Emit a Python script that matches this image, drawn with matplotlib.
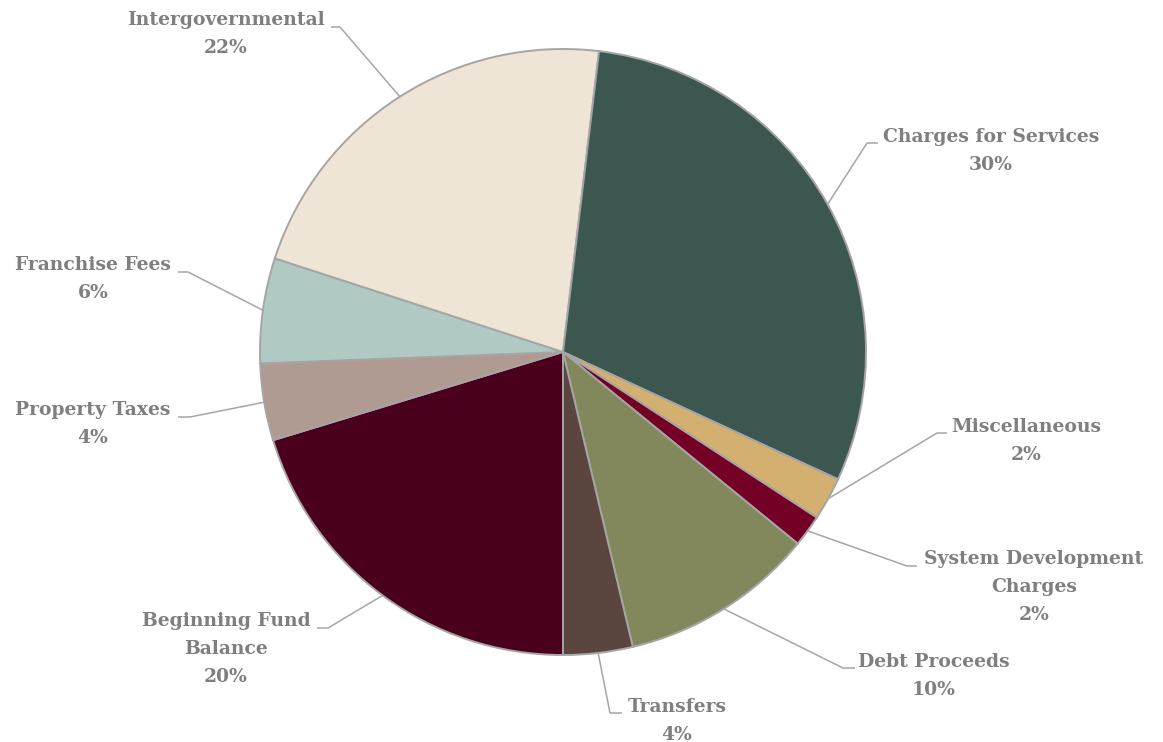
import numpy as np
import matplotlib.pyplot as plt

# Revenue sources, listed clockwise starting from the bottom of the pie
categories = ['Beginning Fund\nBalance', 'Property Taxes', 'Franchise Fees', 'Intergovernmental',
              'Charges for Services', 'Miscellaneous', 'System Development\nCharges',
              'Debt Proceeds', 'Transfers']
shares = [20.3, 4.1, 5.6, 21.9, 30.0, 2.3, 1.7, 10.4, 3.7]
colors = ['#4A001D', '#B09B92', '#B0CAC3', '#EFE5D6', '#3C574F',
          '#D3B06F', '#750026', '#82885B', '#5B463F']

# label layout in pixel coords: text centre, elbow of the leader line, end of the stub
label_pos = [(226, 649), (93, 424), (93, 279), (226, 34),
             (991, 151), (1026, 441), (1034, 587), (934, 676), (677, 721)]
elbows = [(328, 628), (190, 417), (188, 272), (340, 27),
          (867, 143), (937, 433), (907, 566), (843, 668), (610, 713)]
stub_ends = [(317, 628), (178, 417), (178, 272), (331, 27),
             (878, 143), (947, 433), (917, 566), (855, 668), (622, 713)]

W, H = 1163, 742
cx, cy, r = 563, 352, 303

fig = plt.figure(figsize=(W / 100, H / 100), dpi=100)
ax = fig.add_axes([0, 0, 1, 1])

# y axis is flipped below, so counterclock=True is drawn clockwise on screen
wedges, _ = ax.pie(shares, colors=colors, startangle=90, counterclock=True,
                   center=(cx, cy), radius=r,
                   wedgeprops=dict(edgecolor='#A5A5A5', linewidth=1.4))
ax.set_xlim(0, W)
ax.set_ylim(H, 0)
ax.set_aspect('equal')
ax.axis('off')

total = sum(shares)
line_kw = dict(color='#A6A6A6', lw=1.1, solid_capstyle='butt')
for w, name, val, (tx, ty), (ex, ey), (sx, sy) in zip(wedges, categories, shares,
                                                      label_pos, elbows, stub_ends):
    mid = np.deg2rad((w.theta1 + w.theta2) / 2)
    px, py = cx + r * np.cos(mid), cy + r * np.sin(mid)
    ax.plot([px, ex, sx], [py, ey, sy], **line_kw)
    ax.text(tx, ty, f'{name}\n{val / total * 100:.0f}%', ha='center', va='center',
            fontsize=13.5, fontweight='bold', family='DejaVu Serif', color='#7F7F7F',
            linespacing=1.7)

fig.savefig('out.png', dpi=100)
